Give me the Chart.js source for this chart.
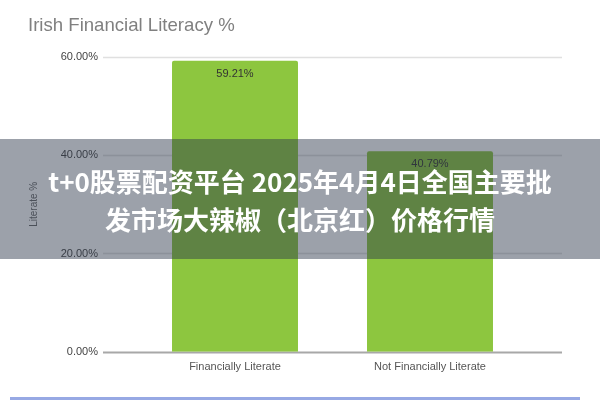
<!DOCTYPE html>
<html>
<head>
<meta charset="utf-8">
<script src="https://cdn.jsdelivr.net/npm/chart.js@4/dist/chart.umd.min.js"></script>
<style>
  html, body { margin: 0; padding: 0; background: #ffffff; }
  #wrap { width: 600px; height: 400px; }
</style>
</head>
<body>
<div id="wrap"><canvas id="literacyChart" width="600" height="400"></canvas></div>
<script>
// chart data
const categories = ['Financially Literate', 'Not Financially Literate'];
const literacyValues = [59.21, 40.79];
const yTickValues = [0, 20, 40, 60];
const overlayLines = ['t+0股票配资平台 2025年4月4日全国主要批', '发市场大辣椒（北京红）价格行情'];

const BAR_GREEN = '#8dc63f';
const GRID_EXTEND = 34.5;

// grid lines reach past the plot on both sides, like the original
const wideGrid = {
    id: 'wideGrid',
    beforeDatasetsDraw(chart) {
        const { ctx, chartArea, scales } = chart;
        const y = scales.y;
        ctx.save();
        y.ticks.forEach(t => {
            const py = Math.round(y.getPixelForValue(t.value)) + 0.5;
            ctx.beginPath();
            ctx.strokeStyle = t.value === 0 ? '#a8a8a8' : '#e0e0e0';
            ctx.lineWidth = t.value === 0 ? 2 : 1.5;
            ctx.moveTo(chartArea.left - GRID_EXTEND, py);
            ctx.lineTo(chartArea.right + GRID_EXTEND, py);
            ctx.stroke();
        });
        ctx.restore();
    }
};

const barLabels = {
    id: 'barLabels',
    afterDatasetsDraw(chart) {
        const { ctx } = chart;
        const meta = chart.getDatasetMeta(0);
        ctx.save();
        ctx.font = '11px "Liberation Sans", Arial, sans-serif';
        ctx.fillStyle = '#333333';
        ctx.textAlign = 'center';
        ctx.textBaseline = 'middle';
        meta.data.forEach((bar, i) => {
            const v = chart.data.datasets[0].data[i];
            ctx.fillText(v.toFixed(2) + '%', bar.x, bar.y + 13);
        });
        ctx.restore();
    }
};

const overlayBand = {
    id: 'overlayBand',
    afterDraw(chart) {
        const { ctx, width } = chart;
        ctx.save();
        ctx.fillStyle = 'rgba(45, 55, 75, 0.47)';
        ctx.fillRect(0, 139, width, 120);
        ctx.fillStyle = '#ffffff';
        ctx.font = 'bold 26px "Noto Sans CJK SC", sans-serif';
        ctx.textAlign = 'center';
        ctx.textBaseline = 'middle';
        overlayLines.forEach((line, i) => {
            ctx.fillText(line, width / 2, 182 + i * 38);
        });
        // thin blue strip at the very bottom
        ctx.fillStyle = '#97a9e4';
        ctx.fillRect(10, 397, 570, 3);
        ctx.restore();
    }
};

const ctx = document.getElementById('literacyChart').getContext('2d');
new Chart(ctx, {
    type: 'bar',
    data: {
        labels: categories,
        datasets: [{
            label: 'Literate %',
            data: literacyValues,
            backgroundColor: BAR_GREEN,
            borderWidth: 0,
            borderRadius: 2,
            borderSkipped: 'bottom',
            barPercentage: 0.646,
            categoryPercentage: 1
        }]
    },
    options: {
        responsive: false,
        animation: false,
        devicePixelRatio: 1,
        layout: { padding: { left: 28, right: 72.5, top: 0, bottom: 17 } },
        plugins: {
            legend: { display: false },
            tooltip: { enabled: false },
            title: {
                display: true,
                text: 'Irish Financial Literacy %',
                align: 'start',
                color: '#808080',
                font: { family: '"Liberation Sans", Arial, sans-serif', size: 18.6, weight: 'normal' },
                padding: { top: 14.5, bottom: 20 }
            }
        },
        scales: {
            x: {
                grid: { display: false, drawTicks: false },
                border: { display: false },
                ticks: {
                    color: '#555555',
                    padding: 9,
                    font: { family: '"Liberation Sans", Arial, sans-serif', size: 11 }
                }
            },
            y: {
                min: 0,
                max: 60,
                afterBuildTicks(scale) {
                    scale.ticks = yTickValues.map(v => ({ value: v }));
                },
                afterFit(scale) {
                    scale.width = 109.5;
                },
                grid: { display: false, drawTicks: false },
                border: { display: false },
                ticks: {
                    color: '#444444',
                    padding: 39.5,
                    font: { family: '"Liberation Sans", Arial, sans-serif', size: 11 },
                    callback: v => v.toFixed(2) + '%'
                },
                title: {
                    display: true,
                    text: 'Literate %',
                    color: '#666666',
                    padding: 0,
                    font: { family: '"Liberation Sans", Arial, sans-serif', size: 10 }
                }
            }
        }
    },
    plugins: [wideGrid, barLabels, overlayBand]
});
</script>
</body>
</html>
